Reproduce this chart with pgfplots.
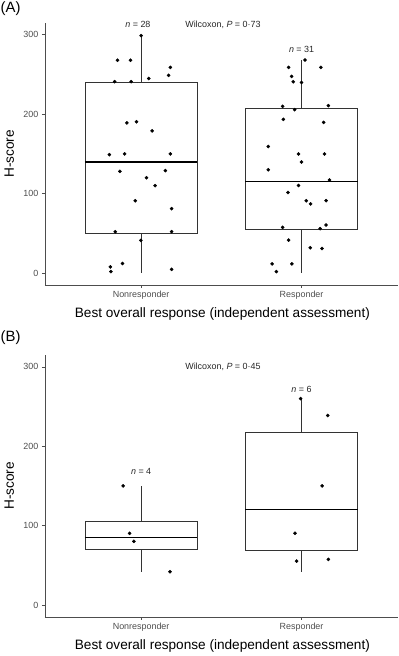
\documentclass[border=0pt]{standalone}
\usepackage{fontspec}
\setmainfont{Liberation Sans}
\usepackage{pgfplots}
\pgfplotsset{compat=1.18}
\usepgfplotslibrary{statistics}
\definecolor{axgray}{HTML}{4D4D4D}
\definecolor{boxgray}{HTML}{333333}

\pgfplotstableread{
x y
1.000 299
0.853 268
0.934 268
1.182 259
1.171 249
1.048 245
0.835 241
0.938 241
0.911 189
0.971 190.5
1.068 179
0.802 149
0.897 150
1.182 150
0.868 128
1.151 129
1.033 120
1.087 110
0.963 91
1.190 81
0.839 52
1.190 52
0.998 41
0.884 12
0.808 7.6
0.812 1.7
1.190 4.6
}\nonrespA

\pgfplotstableread{
x y
2.021 268.3
1.919 259
2.120 259
1.938 247.6
1.948 240.8
2.000 240
1.882 210
2.167 210.8
1.957 205.7
1.886 193.5
2.138 189.7
1.793 159.3
1.981 150
2.143 150
2.000 139.8
1.793 130
2.174 117
1.981 110.3
1.915 101.4
2.029 91
2.056 87
2.153 91
1.882 57.5
2.116 55.8
2.153 60.4
1.919 41.4
2.054 31.7
2.128 30.8
1.816 11.4
1.940 11.4
1.843 1.7
}\respA

\pgfplotstableread{
x y
0.888 150
0.928 90.3
0.955 80.2
1.180 41.8
}\nonrespB

\pgfplotstableread{
x y
1.994 260
2.163 238.8
2.128 150
1.959 90.3
1.969 55.3
2.167 57.4
}\respB

\pgfplotsset{
 panel/.style={
  scale only axis, width=354bp, height=262.7bp,
  xmin=0.4, xmax=2.6, ymin=-15, ymax=315,
  axis lines=left, axis line style={axgray, line width=0.7bp, -},
  xtick={1,2}, xticklabels={Nonresponder,Responder},
  ytick={0,100,200,300},
  tick align=outside, major tick length=3bp,
  every tick/.style={axgray, line width=0.7bp},
  tick label style={font=\fontsize{9}{10}\selectfont, text=axgray},
  /pgf/number format/assume math mode=true,
  xlabel={Best overall response (independent assessment)},
  ylabel={H-score},
  label style={font=\fontsize{13.7}{15}\selectfont},
  xlabel style={at={(axis description cs:0.503,-0.1125)}, anchor=center},
  ylabel style={at={(axis description cs:-0.1008,0.5)}, anchor=center},
  clip=false,
  boxplot/draw direction=y,
  boxplot/every median/.style={black, line width=1.4bp},
 },
 bx/.style={draw=boxgray, line width=0.7bp},
 pts/.style={only marks, mark=*, mark size=1.6bp, black},
}
\tikzset{ann/.style={font=\fontsize{9}{10}\selectfont, inner sep=0pt, text=black!85}}

\begin{document}
\begin{tikzpicture}
\path (0,0) rectangle (400bp,656bp);
\node[anchor=north west, inner sep=0pt, font=\fontsize{15}{17}\selectfont] at (0.5bp,654.3bp) {(A)};
\node[anchor=north west, inner sep=0pt, font=\fontsize{15}{17}\selectfont] at (0.5bp,324.3bp) {(B)};

\begin{axis}[panel, at={(45bp,370.3bp)}, anchor=south west]
\addplot[bx, boxplot prepared={draw position=1, lower whisker=0, lower quartile=50, median=140, upper quartile=240, upper whisker=299, box extend=0.7, whisker extend=0}] coordinates {};
\addplot[bx, boxplot prepared={draw position=2, lower whisker=0, lower quartile=55, median=115.3, upper quartile=207.9, upper whisker=268.3, box extend=0.7, whisker extend=0}] coordinates {};
\addplot[pts] table[x=x, y=y] {\nonrespA};
\addplot[pts] table[x=x, y=y] {\respA};
\node[ann] at (axis cs:0.98,312.5) {\textit{n} = 28};
\node[ann] at (axis cs:2.0,282) {\textit{n} = 31};
\node[ann] at (axis cs:1.51,312.5) {Wilcoxon, \textit{P} = 0·73};
\end{axis}

\begin{axis}[panel, at={(45bp,37.3bp)}, anchor=south west]
\addplot[bx, boxplot prepared={draw position=1, lower whisker=41, lower quartile=70, median=85.2, upper quartile=105.9, upper whisker=150, box extend=0.7, whisker extend=0}] coordinates {};
\addplot[bx, boxplot prepared={draw position=2, lower whisker=41, lower quartile=68.4, median=120.3, upper quartile=217.3, upper whisker=260, box extend=0.7, whisker extend=0}] coordinates {};
\addplot[pts] table[x=x, y=y] {\nonrespB};
\addplot[pts] table[x=x, y=y] {\respB};
\node[ann] at (axis cs:1.0,168) {\textit{n} = 4};
\node[ann] at (axis cs:2.0,271) {\textit{n} = 6};
\node[ann] at (axis cs:1.51,300) {Wilcoxon, \textit{P} = 0·45};
\end{axis}
\end{tikzpicture}
\end{document}
